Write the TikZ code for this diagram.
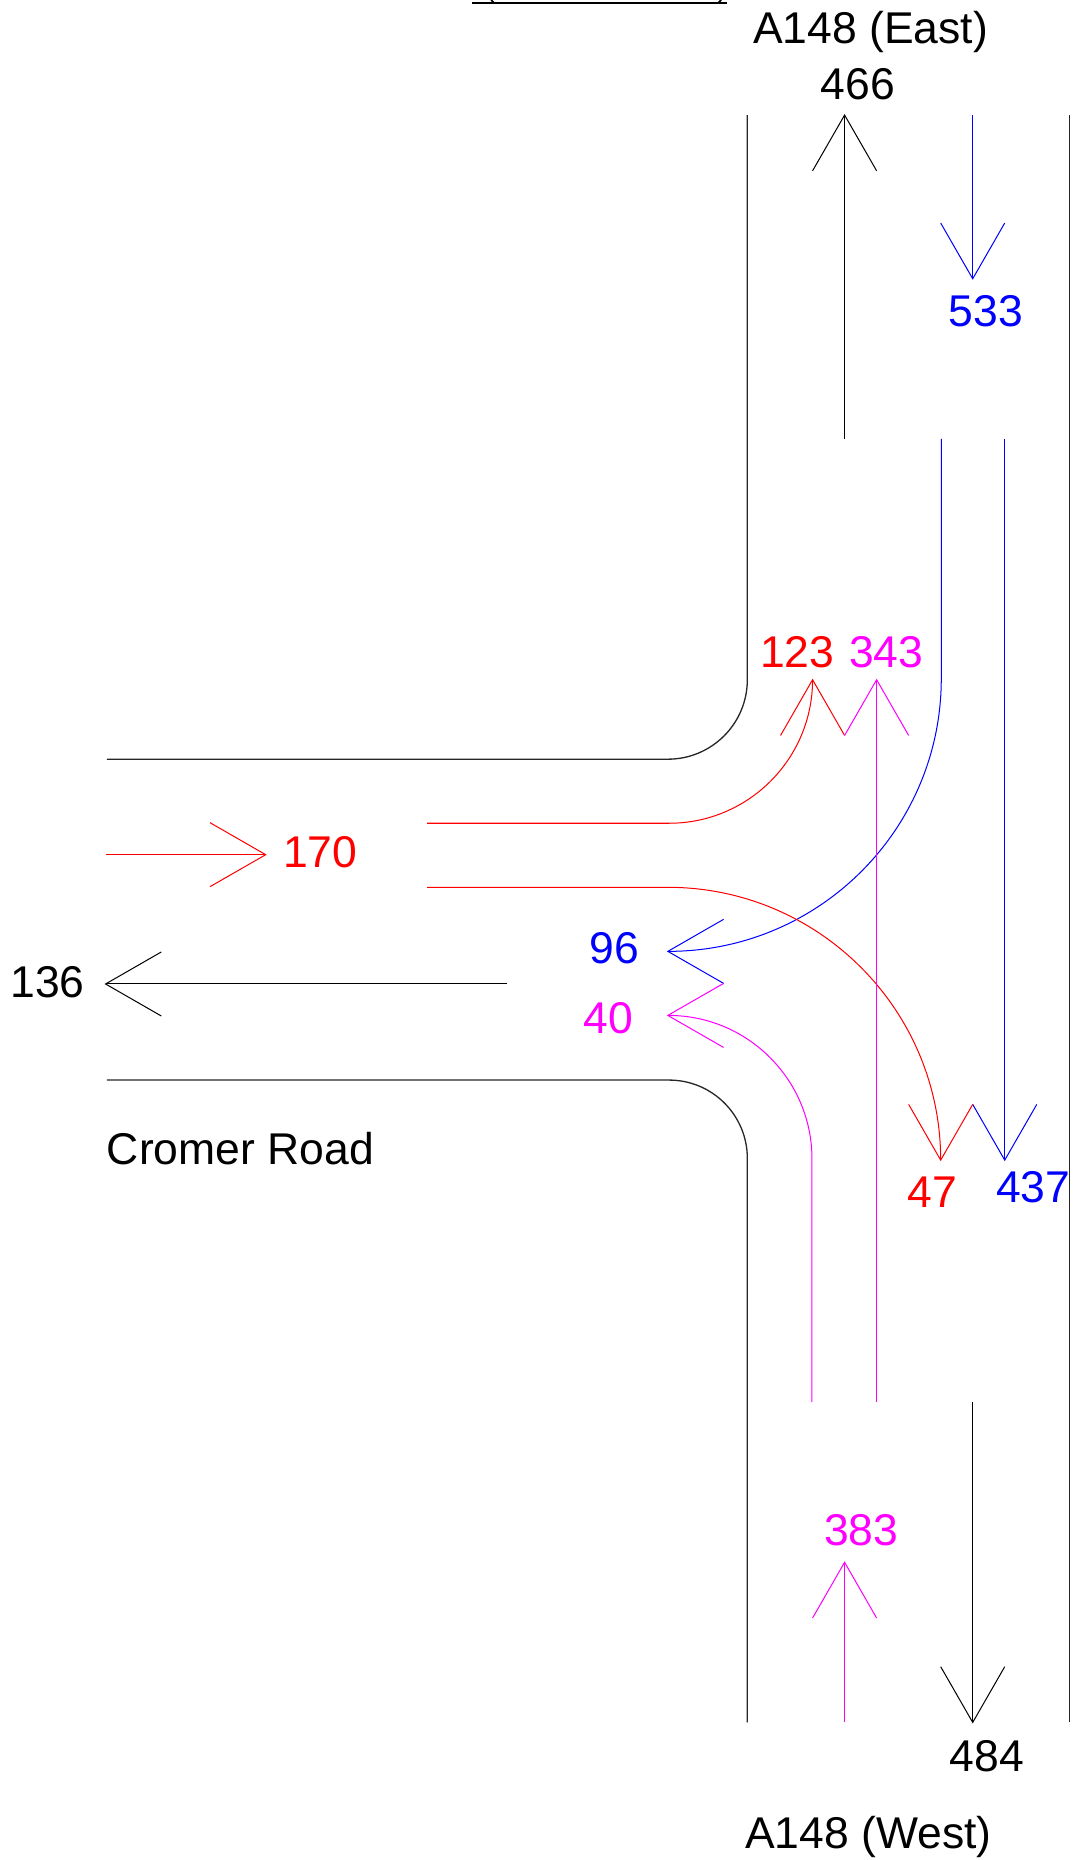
\documentclass[tikz,border=0pt]{standalone}
\usepackage{fontspec}
\setmainfont{Liberation Sans}
\definecolor{flowred}{RGB}{255,0,0}
\definecolor{flowblue}{RGB}{0,0,255}
\definecolor{flowmag}{RGB}{255,0,255}
\newcommand\barbup[1]{\draw ([shift={(-27,47)}]#1) -- (#1) -- ([shift={(27,47)}]#1);}
\newcommand\barbdown[1]{\draw ([shift={(-27,-47)}]#1) -- (#1) -- ([shift={(27,-47)}]#1);}
\newcommand\barbleft[1]{\draw ([shift={(47,-27)}]#1) -- (#1) -- ([shift={(47,27)}]#1);}
\newcommand\barbright[1]{\draw ([shift={(-47,-27)}]#1) -- (#1) -- ([shift={(-47,27)}]#1);}
\begin{document}
\begin{tikzpicture}[x=1pt,y=-1pt,
  road/.style={line width=1.1pt,black!85},
  flow/.style={line width=0.85pt},
  lbl/.style={inner sep=0pt,font=\fontsize{37.5}{45}\selectfont,anchor=base}]
\useasboundingbox (0,0) rectangle (905,1568);
\fill[white] (0,0) rectangle (905,1568);

% cut-off title underline at top
\draw[line width=1.8pt] (398,2.8) -- (613,2.8);
\draw[line width=1.4pt] (414,0) -- (417,2.8);
\draw[line width=1.4pt] (608,0) -- (605,2.8);

% road edges
\draw[road,rounded corners=67pt] (630,97) -- (630,640) -- (90,640);
\draw[road,rounded corners=66pt] (90,910.5) -- (630,910.5) -- (630,1452);
\draw[road] (901.5,97) -- (901.5,1452);

% coordinates of arrow tips
\coordinate (t466) at (712,97);
\coordinate (t533) at (820,235);
\coordinate (t437) at (847,978);
\coordinate (t96) at (563,802);
\coordinate (t123) at (685,573);
\coordinate (t343) at (739,573);
\coordinate (t47) at (793,978);
\coordinate (t40) at (563,856);
\coordinate (t170) at (224,720.5);
\coordinate (t136) at (89,829.5);
\coordinate (t383) at (712,1317);
\coordinate (t484) at (820,1452);

% black flows
\begin{scope}[flow,black]
\draw (712,370) -- (t466); \barbup{t466}
\draw (427,829.5) -- (t136); \barbleft{t136}
\draw (820,1182) -- (t484); \barbdown{t484}
\end{scope}

% blue flows
\begin{scope}[flow,flowblue]
\draw (820,97) -- (t533); \barbdown{t533}
\draw (847,370) -- (t437); \barbdown{t437}
\draw[rounded corners=230pt] (793.5,370) -- (793.5,802) -- (t96); \barbleft{t96}
\end{scope}

% red flows
\begin{scope}[flow,flowred]
\draw (89,720.5) -- (t170); \barbright{t170}
\draw[rounded corners=121pt] (360,694) -- (685,694) -- (t123); \barbup{t123}
\draw[rounded corners=230pt] (360,748) -- (793,748) -- (t47); \barbdown{t47}
\end{scope}

% magenta flows
\begin{scope}[flow,flowmag]
\draw (712,1452) -- (t383); \barbup{t383}
\draw (739,1182) -- (t343); \barbup{t343}
\draw[rounded corners=121pt] (684.5,1182) -- (684.5,856) -- (t40); \barbleft{t40}
\end{scope}

% labels
\node[lbl] (east) at (734,37) {A148 (East)};
\node[lbl] (west) at (732,1558) {A148 (West)};
\node[lbl,anchor=base west] (cromer) at (90,982) {Cromer Road};
\node[lbl] (l466) at (723,84) {466};
\node[lbl,flowblue] (l533) at (831,275) {533};
\node[lbl,flowred] (l123) at (672,563) {123};
\node[lbl,flowmag] (l343) at (747,563) {343};
\node[lbl,flowred] (l170) at (270,731) {170};
\node[lbl] (l136) at (40,841) {136};
\node[lbl,flowblue] (l96) at (518,812) {96};
\node[lbl,flowmag] (l40) at (513,871) {40};
\node[lbl,flowred] (l47) at (786,1018) {47};
\node[lbl,flowblue] (l437) at (871,1014) {437};
\node[lbl,flowmag] (l383) at (726,1303) {383};
\node[lbl] (l484) at (832,1493) {484};
\end{tikzpicture}
\end{document}
